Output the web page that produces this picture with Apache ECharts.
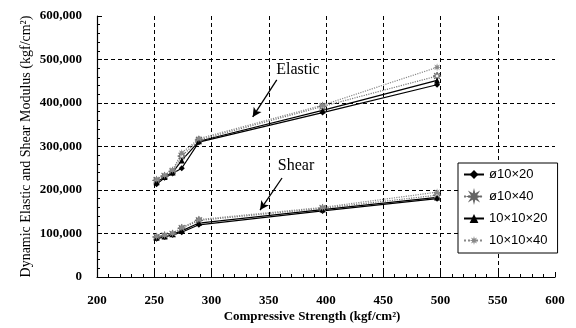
<!DOCTYPE html>
<html><head><meta charset="utf-8">
<script src="https://cdn.jsdelivr.net/npm/echarts@6/dist/echarts.min.js"></script>
<style>html,body{margin:0;padding:0;background:#fff}#c{width:576px;height:328px}</style>
</head><body><div id="c"></div>
<script>
// ---- data ----
var strength = [252, 259, 266, 274, 289, 397, 497];
var seriesNames = ['ø10×20', 'ø10×40', '10×10×20', '10×10×40'];
var elastic_d10x20   = [213000, 228000, 238000, 250000, 310000, 378000, 442000];
var elastic_d10x40   = [222000, 232000, 243000, 278000, 315000, 392000, 462000];
var elastic_10x10x20 = [218000, 230000, 240000, 268000, 312000, 383000, 452000];
var elastic_10x10x40 = [225000, 234000, 246000, 285000, 318000, 395000, 482000];
var shear_d10x20     = [88000, 92000, 97000, 103000, 120000, 152000, 180000];
var shear_d10x40     = [92000, 95000, 99000, 112000, 130000, 158000, 188000];
var shear_10x10x20   = [90000, 93000, 98000, 106000, 124000, 155000, 183000];
var shear_10x10x40   = [93000, 96000, 100000, 114000, 132000, 160000, 195000];
var xTicks = [200, 250, 300, 350, 400, 450, 500, 550, 600];
var yTicks = [0, 100000, 200000, 300000, 400000, 500000, 600000];

function pairs(ys){ return strength.map(function(x,i){ return [x, ys[i]]; }); }

var STAR = 'path://M5,0L1.85,0.77L3.54,3.54L0.77,1.85L0,5L-0.77,1.85L-3.54,3.54L-1.85,0.77L-5,0L-1.85,-0.77L-3.54,-3.54L-0.77,-1.85L0,-5L0.77,-1.85L3.54,-3.54L1.85,-0.77Z';
var styles = [
  {symbol:'diamond', symbolSize:6, item:{color:'#000'}, line:{color:'#000', width:1.2, type:'solid'}},
  {symbol:STAR, symbolSize:8, item:{color:'#fff', borderColor:'#666', borderWidth:1}, line:{color:'#777', width:1.2, type:'dotted'}},
  {symbol:'triangle', symbolSize:6, item:{color:'#000'}, line:{color:'#000', width:1.2, type:'solid'}},
  {symbol:STAR, symbolSize:8, item:{color:'#888'}, line:{color:'#888', width:1.2, type:'dotted'}}
];
var elasticSets = [elastic_d10x20, elastic_d10x40, elastic_10x10x20, elastic_10x10x40];
var shearSets = [shear_d10x20, shear_d10x40, shear_10x10x20, shear_10x10x40];

var series = [];
[elasticSets, shearSets].forEach(function(sets, g){
  sets.forEach(function(ys, i){
    var s = styles[i];
    series.push({
      name: seriesNames[i], type:'line', data: pairs(ys),
      symbol: s.symbol, symbolSize: s.symbolSize, showAllSymbol:true,
      itemStyle: s.item, lineStyle: s.line, z: 3, animation:false
    });
  });
});
var serif = 'Liberation Serif';
series[0].markLine = {
  silent:true, symbol:['none','arrow'], symbolSize:[7,9], animation:false,
  lineStyle:{color:'#000', width:1.3, type:'solid'}, label:{show:false},
  data:[
    [{coord:[357,453000]},{coord:[336,368000]}],
    [{coord:[361.6,227600]},{coord:[342.4,154000]}]
  ]
};
series[0].markPoint = {
  silent:true, symbol:'circle', symbolSize:0, animation:false,
  label:{show:true, position:'inside', color:'#000', fontFamily:serif, fontSize:16},
  data:[
    {coord:[375.5,476000], value:'Elastic', label:{formatter:'Elastic'}},
    {coord:[373.8,255200], value:'Shear', label:{formatter:'Shear'}}
  ]
};

var grid = {left:97, right:21, top:16, bottom:51};
var dash = {color:'#000', width:1, type:[4,3]};
var option = {
  backgroundColor:'#fff',
  animation:false,
  grid: grid,
  legend: {
    orient:'vertical', left:458, top:163, width:95,
    backgroundColor:'#fff', borderColor:'#000', borderWidth:1, borderRadius:0,
    padding:[5,10,6,5], itemGap:9, itemWidth:20, itemHeight:11,
    data: seriesNames,
    textStyle:{fontFamily:'Liberation Sans', fontSize:13, color:'#000'}
  },
  xAxis: {
    type:'value', min:xTicks[0], max:xTicks[xTicks.length-1], interval:50,
    name:'Compressive Strength (kgf/cm²)', nameLocation:'middle', nameGap:33, nameMoveOverlap:false,
    nameTextStyle:{fontFamily:serif, fontWeight:'bold', fontSize:13, color:'#000', padding:[0,28,0,0]},
    axisLine:{lineStyle:{color:'#000', width:1.2}},
    axisTick:{show:true, inside:true, length:5, lineStyle:{color:'#000'}},
    minorTick:{show:true, splitNumber:5, length:3, lineStyle:{color:'#000', width:1}},
    axisLabel:{fontFamily:serif, fontWeight:'bold', fontSize:13, color:'#000', margin:17},
    splitLine:{show:true, showMinLine:false, showMaxLine:false, lineStyle:dash}
  },
  yAxis: {
    type:'value', min:yTicks[0], max:yTicks[yTicks.length-1], interval:100000,
    name:'Dynamic Elastic and Shear Modulus (kgf/cm²)', nameLocation:'middle', nameGap:64, nameMoveOverlap:false,
    nameTextStyle:{fontFamily:serif, fontSize:14, color:'#000'},
    axisLine:{show:true, lineStyle:{color:'#000', width:1.2}},
    axisTick:{show:true, inside:true, length:5, lineStyle:{color:'#000'}},
    minorTick:{show:true, splitNumber:5, length:3, lineStyle:{color:'#000', width:1}},
    axisLabel:{fontFamily:serif, fontWeight:'bold', fontSize:13, color:'#000', margin:15,
      formatter:function(v){ return v.toLocaleString('en-US'); }},
    splitLine:{show:true, showMinLine:false, showMaxLine:false, lineStyle:dash}
  },
  series: series
};
var chart = echarts.init(document.getElementById('c'), null, {renderer:'canvas'});
chart.setOption(option);
</script></body></html>
